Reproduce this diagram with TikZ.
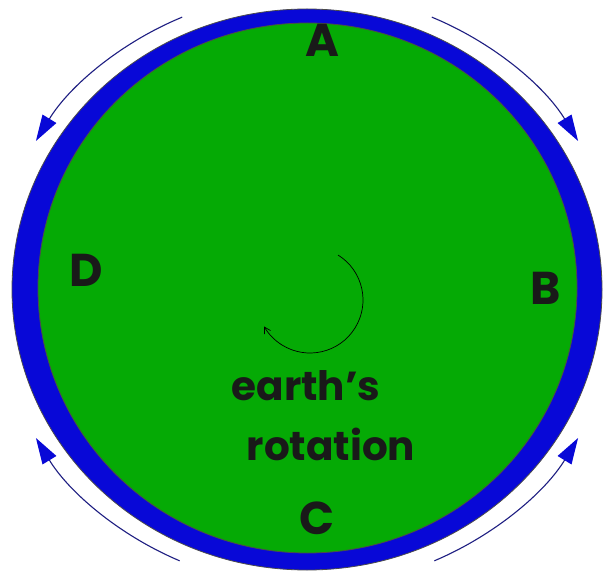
\documentclass[tikz,border=0pt]{standalone}
\usepackage{fontspec}
\setmainfont{Poppins}
\usetikzlibrary{arrows.meta}
\definecolor{ringblue}{RGB}{8,8,215}
\definecolor{earthgreen}{RGB}{5,170,5}
\definecolor{arrline}{RGB}{30,30,130}
\tikzset{
  lbl/.style={font=\bfseries\fontsize{46}{50}\selectfont, text=black!90, inner sep=0pt},
  txt/.style={font=\bfseries\fontsize{40.5}{44}\selectfont, text=black!90, inner sep=0pt, anchor=base},
  orbitarrow/.style={draw=arrline, line width=1.1pt,
     -{Triangle[length=26pt,width=16pt,color=ringblue,fill=ringblue]}},
}
\begin{document}
\begin{tikzpicture}[x=1pt,y=1pt]
\useasboundingbox (0,0) rectangle (607,576);
\fill[white] (0,0) rectangle (607,576);
\coordinate (O) at (307,286.5);
\coordinate (I) at (307.5,288);
% ring and earth
\fill[ringblue, draw=black!70, line width=0.8pt] (O) ellipse [x radius=295, y radius=280.5];
\fill[earthgreen, draw=black!70, line width=0.8pt] (I) ellipse [x radius=269.5, y radius=265];
% labels
\node[lbl] (A) at (322,536) {A};
\node[lbl] (B) at (546,288) {B};
\node[lbl] (C) at (317,58) {C};
\node[lbl] (D) at (86,306) {D};
\node[txt] (t1) at (306,176) {earth\char"0027 s};
\node[txt] (t2) at (331,116) {rotation};
% rotation arrow
\coordinate (R) at (310,276);
\draw[black, line width=0.7pt, -{Straight Barb[length=6pt,width=7pt]}] (R) ++(58:53) arc[start angle=58, end angle=-150, radius=53];
% orbit arrows
\draw[orbitarrow] (O) ++(113.5:313 and 297) arc[start angle=113.5, end angle=150, x radius=313, y radius=297];
\draw[orbitarrow] (O) ++(66.5:313 and 297) arc[start angle=66.5, end angle=30, x radius=313, y radius=297];
\draw[orbitarrow] (O) ++(246:313 and 297) arc[start angle=246, end angle=210, x radius=313, y radius=297];
\draw[orbitarrow] (O) ++(294:313 and 297) arc[start angle=294, end angle=330, x radius=313, y radius=297];
\end{tikzpicture}
\end{document}
